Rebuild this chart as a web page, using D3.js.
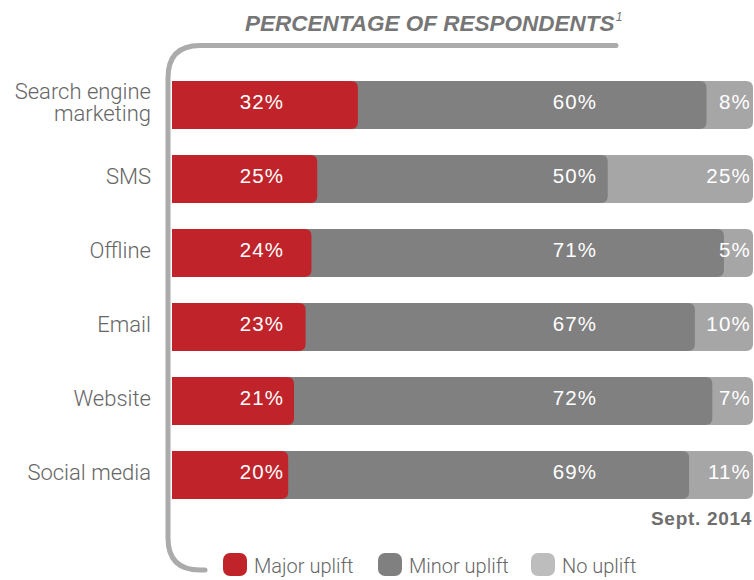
<!DOCTYPE html>
<html>
<head>
<meta charset="utf-8">
<script src="https://cdn.jsdelivr.net/npm/d3@7"></script>
<style>
  body { margin: 0; background: #fff; }
  svg { display: block; }
  .cat { font-family: Roboto, 'Liberation Sans', sans-serif; font-weight: 300; fill: #666; font-size: 22px; }
  .pct { font-family: 'Liberation Sans', Arial, sans-serif; fill: #fff; font-size: 20.5px; letter-spacing: 1.2px; }
  .leg { font-family: Roboto, 'Liberation Sans', sans-serif; font-weight: 300; fill: #666; font-size: 20px; }
</style>
</head>
<body>
<svg id="chart" width="754" height="580"></svg>
<script>
const categories = [['Search engine', 'marketing'], ['SMS'], ['Offline'], ['Email'], ['Website'], ['Social media']]
const majorUplift = [32, 25, 24, 23, 21, 20]
const minorUplift = [60, 50, 71, 67, 72, 69]
const noUplift = [8, 25, 5, 10, 7, 11]
const legendLabels = ['Major uplift', 'Minor uplift', 'No uplift']

const colors = { major: '#c0242a', minor: '#808080', none: '#a6a6a6', noneLegend: '#bdbdbd', bracket: '#ababab' }

const svg = d3.select('#chart')
const xScale = d3.scaleLinear().domain([0, 100]).range([172, 753])
const yScale = d3.scaleBand().domain(d3.range(categories.length)).range([68, 512]).paddingInner(0.35).paddingOuter(0.175)

// bar with square left end and rounded right end
function barPath (x0, x1, y, h, r) {
  return `M${x0},${y}H${x1 - r}Q${x1},${y} ${x1},${y + r}V${y + h - r}Q${x1},${y + h} ${x1 - r},${y + h}H${x0}Z`
}

// title
const title = svg.append('text')
  .attr('x', 245).attr('y', 31)
  .style('font-family', "'Liberation Sans', Arial, sans-serif")
  .style('font-weight', 'bold').style('font-style', 'italic')
  .style('font-size', '22.5px').style('fill', '#767676')
title.append('tspan').text('PERCENTAGE OF RESPONDENTS')
title.append('tspan').text('1').attr('dy', -10).attr('dx', 1).style('font-size', '12px').style('font-weight', 'normal')

// bracket
svg.append('path')
  .attr('d', 'M616,45.5H200Q168,45.5 168,78V538Q168,570 200,570H205')
  .attr('fill', 'none')
  .attr('stroke', colors.bracket)
  .attr('stroke-width', 5)
  .attr('stroke-linecap', 'round')

const rows = svg.append('g').selectAll('g')
  .data(categories.map((c, i) => ({ cat: c, major: majorUplift[i], minor: minorUplift[i], none: noUplift[i], i })))
  .join('g')

const h = yScale.bandwidth()
rows.append('path')
  .attr('d', d => barPath(xScale(0), xScale(d.major + d.minor + d.none), yScale(d.i), h, 7))
  .attr('fill', colors.none)
rows.append('path')
  .attr('d', d => barPath(xScale(0), xScale(d.major + d.minor), yScale(d.i), h, 7))
  .attr('fill', colors.minor)
rows.append('path')
  .attr('d', d => barPath(xScale(0), xScale(d.major), yScale(d.i), h, 7))
  .attr('fill', colors.major)

rows.append('text').attr('class', 'pct')
  .attr('x', 262).attr('y', d => yScale(d.i) + h / 2 + 4)
  .attr('text-anchor', 'middle')
  .text(d => d.major + '%')
rows.append('text').attr('class', 'pct')
  .attr('x', 575).attr('y', d => yScale(d.i) + h / 2 + 4)
  .attr('text-anchor', 'middle')
  .text(d => d.minor + '%')
rows.append('text').attr('class', 'pct')
  .attr('x', 751).attr('y', d => yScale(d.i) + h / 2 + 4)
  .attr('text-anchor', 'end')
  .text(d => d.none + '%')

rows.append('text').attr('class', 'cat')
  .attr('text-anchor', 'end')
  .attr('x', 151)
  .attr('y', d => yScale(d.i) + h / 2 + 5 - (d.cat.length - 1) * 11)
  .selectAll('tspan')
  .data(d => d.cat)
  .join('tspan')
  .attr('x', 151)
  .attr('dy', (d, j) => j === 0 ? 0 : 22)
  .text(d => d)

svg.append('text')
  .attr('x', 752).attr('y', 525)
  .attr('text-anchor', 'end')
  .style('font-family', "'Liberation Sans', Arial, sans-serif")
  .style('font-weight', 'bold').style('font-size', '19px').style('fill', '#6e6e6e')
  .style('letter-spacing', '0.7px')
  .text('Sept. 2014')

// legend
const legendX = [223, 378, 531]
const legendColors = [colors.major, colors.minor, colors.noneLegend]
const legend = svg.append('g').selectAll('g')
  .data(legendLabels)
  .join('g')
  .attr('transform', (d, i) => `translate(${legendX[i]}, 553)`)
legend.append('rect')
  .attr('width', 24).attr('height', 23).attr('rx', 7)
  .attr('fill', (d, i) => legendColors[i])
legend.append('text').attr('class', 'leg')
  .attr('x', 31).attr('y', 20)
  .text(d => d)
</script>
</body>
</html>
